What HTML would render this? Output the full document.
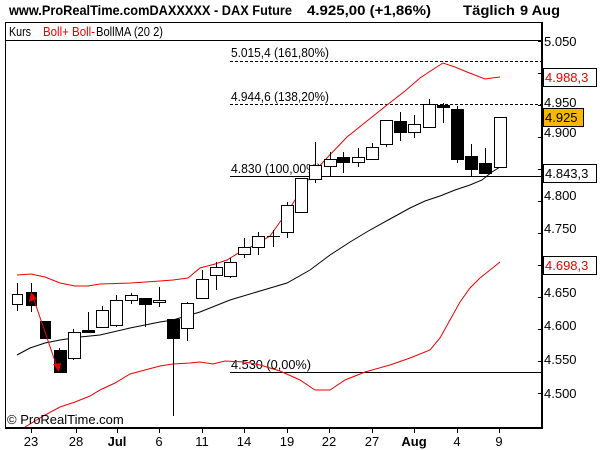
<!DOCTYPE html>
<html><head><meta charset="utf-8"><style>
html,body{margin:0;padding:0;background:#fff;}
svg{display:block;font-family:"Liberation Sans",Arial,sans-serif;}
</style></head><body>
<svg width="600" height="450" viewBox="0 0 600 450" xmlns="http://www.w3.org/2000/svg">
<rect width="600" height="450" fill="#fff"/>
<text x="9" y="15" font-size="14" font-weight="bold" textLength="283" lengthAdjust="spacingAndGlyphs">www.ProRealTime.comDAXXXXX - DAX Future</text>
<text x="307" y="15" font-size="14" font-weight="bold" textLength="124" lengthAdjust="spacingAndGlyphs">4.925,00 (+1,86%)</text>
<text x="463" y="15" font-size="14" font-weight="bold" textLength="52" lengthAdjust="spacingAndGlyphs">Täglich</text>
<text x="520" y="15" font-size="14" font-weight="bold" textLength="40" lengthAdjust="spacingAndGlyphs">9 Aug</text>
<rect x="5.5" y="22.5" width="536" height="18" fill="none" stroke="#000"/>
<line x1="5.5" y1="22" x2="5.5" y2="428" stroke="#000"/>
<line x1="542" y1="22" x2="542" y2="429" stroke="#000" stroke-width="2"/>
<line x1="5" y1="428" x2="543" y2="428" stroke="#000" stroke-width="2"/>
<text x="9" y="36" font-size="13" textLength="22" lengthAdjust="spacingAndGlyphs">Kurs</text>
<text x="43" y="36" font-size="13" fill="#e00" textLength="52" lengthAdjust="spacingAndGlyphs">Boll+ Boll-</text>
<text x="96" y="36" font-size="13" textLength="67" lengthAdjust="spacingAndGlyphs">BollMA (20 2)</text>
<line x1="230" y1="61.5" x2="541" y2="61.5" stroke="#000" stroke-dasharray="3,2"/>
<line x1="230" y1="104.5" x2="541" y2="104.5" stroke="#000" stroke-dasharray="3,2"/>
<line x1="230" y1="176.5" x2="541" y2="176.5" stroke="#000"/>
<line x1="230" y1="372.5" x2="541" y2="372.5" stroke="#000"/>
<g font-size="13">
<text x="231" y="57" textLength="98" lengthAdjust="spacingAndGlyphs">5.015,4 (161,80%)</text>
<text x="231" y="101" textLength="98" lengthAdjust="spacingAndGlyphs">4.944,6 (138,20%)</text>
<text x="231" y="173" textLength="90" lengthAdjust="spacingAndGlyphs">4.830 (100,00%)</text>
<text x="231" y="369" textLength="80" lengthAdjust="spacingAndGlyphs">4.530 (0,00%)</text>
</g>
<polyline fill="none" stroke="#e00" points="17,275 31,274 45,277 60,283 75,286 88,286 100,284 131,283 160,281 173,280 188,278 200,268 215,264 227,260 240,252 255,245 270,236 280,222 290,208 300,192 313,173 325,160 347,137 367,121 387,105 405,91 420,78 432,70 443,63 455,67 467,72 485,79 492,78 500,77"/>
<polyline fill="none" stroke="#e00" points="25,427 45,415 60,407 75,402 90,396 100,390 115,383 130,374 145,370 160,366 173,364 190,363 200,362 213,364 225,361 245,362 260,365 280,371 300,380 315,390 330,390 345,380 365,372 390,365 410,358 430,350 440,338 450,320 460,302 470,288 480,278 490,270 500,262"/>
<polyline fill="none" stroke="#000" points="17,355 30,348 45,343 60,340 80,337 100,335 130,328 160,322 173,320 200,312 230,300 260,291 287,283 310,270 330,255 350,242 370,230 390,219 410,208 425,201 440,196 455,190 470,185 482,180 492,172 500,167"/>
<g stroke="#000" stroke-width="1" shape-rendering="crispEdges">
<line x1="17.5" y1="283" x2="17.5" y2="311"/><rect x="12.5" y="294.5" width="10" height="10" fill="#fff"/>
<line x1="31.5" y1="283" x2="31.5" y2="312"/><rect x="26.5" y="292.5" width="10" height="13" fill="#000"/>
<line x1="45.5" y1="321" x2="45.5" y2="339"/><rect x="40.5" y="321.5" width="10" height="17" fill="#000"/>
<line x1="59.5" y1="348" x2="59.5" y2="372"/><rect x="54.5" y="350.5" width="12" height="22" fill="#000"/>
<line x1="73.5" y1="329" x2="73.5" y2="360"/><rect x="68.5" y="332.5" width="12" height="26" fill="#fff"/>
<line x1="88.5" y1="312" x2="88.5" y2="332"/><rect x="82.5" y="330.5" width="12" height="2" fill="#000"/>
<line x1="102.5" y1="306" x2="102.5" y2="327"/><rect x="96.5" y="310.5" width="12" height="17" fill="#fff"/>
<line x1="116.5" y1="295" x2="116.5" y2="327"/><rect x="110.5" y="300.5" width="12" height="25" fill="#fff"/>
<line x1="131.5" y1="293" x2="131.5" y2="304"/><rect x="125.5" y="295.5" width="12" height="5" fill="#fff"/>
<line x1="145.5" y1="298" x2="145.5" y2="327"/><rect x="139.5" y="298.5" width="12" height="6" fill="#000"/>
<line x1="159.5" y1="287" x2="159.5" y2="307"/><rect x="153.5" y="300.5" width="12" height="2" fill="#fff"/>
<line x1="173.5" y1="319" x2="173.5" y2="416"/><rect x="167.5" y="319.5" width="12" height="19" fill="#000"/>
<line x1="187.5" y1="302" x2="187.5" y2="341"/><rect x="181.5" y="303.5" width="12" height="25" fill="#fff"/>
<line x1="202.5" y1="270" x2="202.5" y2="299"/><rect x="196.5" y="279.5" width="12" height="19" fill="#fff"/>
<line x1="216.5" y1="262" x2="216.5" y2="290"/><rect x="210.5" y="267.5" width="12" height="8" fill="#fff"/>
<line x1="230.5" y1="258" x2="230.5" y2="278"/><rect x="224.5" y="262.5" width="12" height="14" fill="#fff"/>
<line x1="244.5" y1="238" x2="244.5" y2="258"/><rect x="238.5" y="247.5" width="12" height="7" fill="#fff"/>
<line x1="258.5" y1="232" x2="258.5" y2="255"/><rect x="252.5" y="236.5" width="12" height="11" fill="#fff"/>
<line x1="273.5" y1="230" x2="273.5" y2="247"/><line x1="267" y1="236.5" x2="280" y2="236.5"/>
<line x1="287.5" y1="202" x2="287.5" y2="238"/><rect x="281.5" y="205.5" width="12" height="27" fill="#fff"/>
<line x1="301.5" y1="178" x2="301.5" y2="213"/><rect x="295.5" y="178.5" width="12" height="34" fill="#fff"/>
<line x1="315.5" y1="142" x2="315.5" y2="183"/><rect x="309.5" y="165.5" width="12" height="14" fill="#fff"/>
<line x1="330.5" y1="152" x2="330.5" y2="176"/><rect x="324.5" y="159.5" width="12" height="7" fill="#fff"/>
<line x1="343.5" y1="152" x2="343.5" y2="173"/><rect x="337.5" y="157.5" width="12" height="5" fill="#000"/>
<line x1="358.5" y1="148" x2="358.5" y2="167"/><rect x="352.5" y="157.5" width="12" height="5" fill="#fff"/>
<line x1="372.5" y1="143" x2="372.5" y2="160"/><rect x="366.5" y="147.5" width="12" height="12" fill="#fff"/>
<line x1="386.5" y1="120" x2="386.5" y2="147"/><rect x="380.5" y="120.5" width="12" height="24" fill="#fff"/>
<line x1="400.5" y1="112" x2="400.5" y2="141"/><rect x="394.5" y="121.5" width="12" height="11" fill="#000"/>
<line x1="414.5" y1="115" x2="414.5" y2="138"/><rect x="408.5" y="124.5" width="12" height="8" fill="#fff"/>
<line x1="429.5" y1="99" x2="429.5" y2="127"/><rect x="423.5" y="104.5" width="12" height="23" fill="#fff"/>
<line x1="443.5" y1="103" x2="443.5" y2="123"/><rect x="437.5" y="105.5" width="12" height="2" fill="#000"/>
<line x1="457.5" y1="106" x2="457.5" y2="163"/><rect x="451.5" y="109.5" width="12" height="50" fill="#000"/>
<line x1="471.5" y1="144" x2="471.5" y2="176"/><rect x="465.5" y="156.5" width="12" height="13" fill="#000"/>
<line x1="485.5" y1="148" x2="485.5" y2="173"/><rect x="479.5" y="163.5" width="12" height="10" fill="#000"/>
<rect x="494.5" y="117.5" width="12" height="50" fill="#fff"/>
</g>
<line x1="33" y1="297" x2="57" y2="367" stroke="#e00"/>
<polygon points="31,292 29,302 37,299" fill="#e00"/>
<polygon points="59,372 53,364 61,363" fill="#e00"/>
<g stroke="#000" shape-rendering="crispEdges">
<line x1="538" y1="41.5" x2="542" y2="41.5"/><line x1="538" y1="73.5" x2="542" y2="73.5"/>
<line x1="538" y1="105.5" x2="542" y2="105.5"/><line x1="538" y1="137.5" x2="542" y2="137.5"/>
<line x1="538" y1="169.5" x2="542" y2="169.5"/><line x1="538" y1="201.5" x2="542" y2="201.5"/>
<line x1="538" y1="233.5" x2="542" y2="233.5"/><line x1="538" y1="265.5" x2="542" y2="265.5"/>
<line x1="538" y1="297.5" x2="542" y2="297.5"/><line x1="538" y1="329.5" x2="542" y2="329.5"/>
<line x1="538" y1="361.5" x2="542" y2="361.5"/><line x1="538" y1="393.5" x2="542" y2="393.5"/>
</g>
<g font-size="13">
<text x="544" y="46">5.050</text>
<text x="544" y="107">4.950</text>
<text x="544" y="137">4.900</text>
<text x="544" y="200">4.800</text>
<text x="544" y="233">4.750</text>
<text x="544" y="297">4.650</text>
<text x="544" y="330">4.600</text>
<text x="544" y="364">4.550</text>
<text x="544" y="398">4.500</text>
</g>
<rect x="543.5" y="68.5" width="53" height="18" fill="#fff" stroke="#000"/>
<text x="545" y="82" font-size="13" fill="#e00">4.988,3</text>
<rect x="543.5" y="108.5" width="40" height="18" fill="#f5b800" stroke="#000"/>
<text x="545" y="122" font-size="13">4.925</text>
<rect x="543.5" y="164.5" width="53" height="18" fill="#fff" stroke="#000"/>
<text x="545" y="178" font-size="13">4.843,3</text>
<rect x="543.5" y="256.5" width="53" height="18" fill="#fff" stroke="#000"/>
<text x="545" y="270" font-size="13" fill="#e00">4.698,3</text>
<g stroke="#000" shape-rendering="crispEdges">
<line x1="31.5" y1="428" x2="31.5" y2="433"/><line x1="76.5" y1="428" x2="76.5" y2="433"/>
<line x1="117.5" y1="428" x2="117.5" y2="433"/><line x1="159.5" y1="428" x2="159.5" y2="433"/>
<line x1="202.5" y1="428" x2="202.5" y2="433"/><line x1="244.5" y1="428" x2="244.5" y2="433"/>
<line x1="287.5" y1="428" x2="287.5" y2="433"/><line x1="329.5" y1="428" x2="329.5" y2="433"/>
<line x1="372.5" y1="428" x2="372.5" y2="433"/><line x1="414.5" y1="428" x2="414.5" y2="433"/>
<line x1="457.5" y1="428" x2="457.5" y2="433"/><line x1="499.5" y1="428" x2="499.5" y2="433"/>
</g>
<g font-size="13" text-anchor="middle">
<text x="31" y="446">23</text><text x="76" y="446">28</text>
<text x="117" y="446" font-weight="bold">Jul</text><text x="159" y="446">6</text>
<text x="202" y="446">11</text><text x="244" y="446">14</text>
<text x="287" y="446">19</text><text x="329" y="446">22</text>
<text x="372" y="446">27</text><text x="414" y="446" font-weight="bold">Aug</text>
<text x="457" y="446">4</text><text x="499" y="446">9</text>
</g>
<text x="7" y="424" font-size="13">© ProRealTime.com</text>
</svg>
</body></html>
